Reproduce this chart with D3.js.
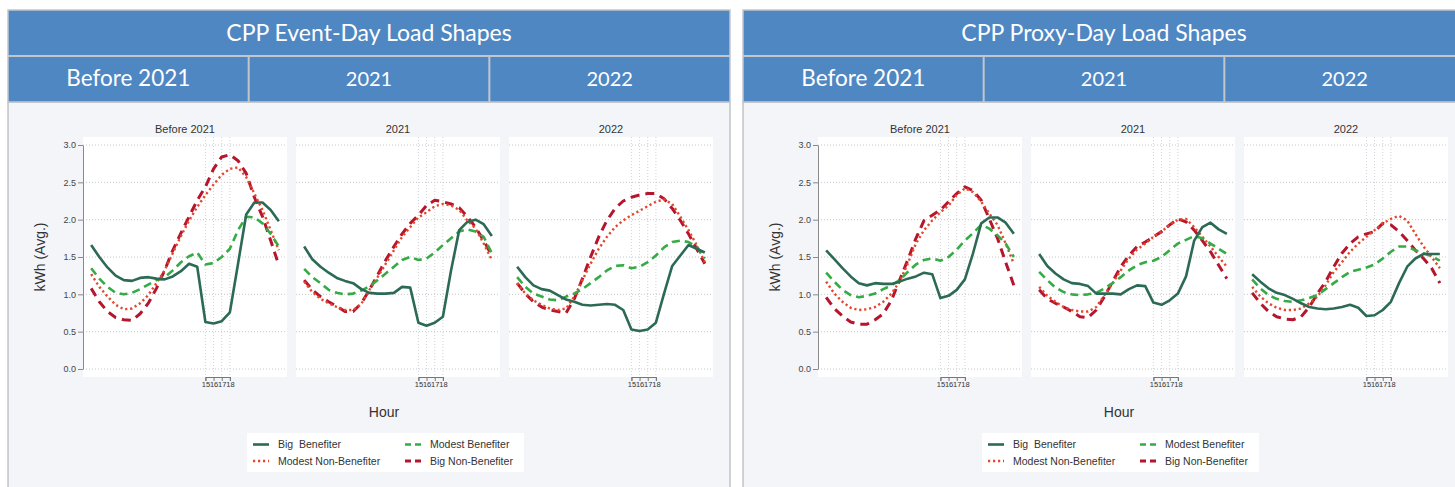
<!DOCTYPE html>
<html>
<head>
<meta charset="utf-8">
<script src="https://cdn.jsdelivr.net/npm/d3@7"></script>
<style>
body { margin: 0; background: #fff; overflow: hidden; }
svg { display: block; }
</style>
</head>
<body>
<div id="chart"></div>
<script>
// data, hours 1..24
const hours = [1,2,3,4,5,6,7,8,9,10,11,12,13,14,15,16,17,18,19,20,21,22,23,24];
const peakHours = [15, 16, 17, 18];
const yTicks = [0, 0.5, 1, 1.5, 2, 2.5, 3];
const cardTitles = ["CPP Event-Day Load Shapes", "CPP Proxy-Day Load Shapes"];
const periods = ["Before 2021", "2021", "2022"];
const seriesNames = ["Big  Benefiter", "Modest Benefiter", "Modest Non-Benefiter", "Big Non-Benefiter"];

// CPP event day
const evBefore_big = [1.66,1.50,1.36,1.25,1.19,1.18,1.22,1.23,1.21,1.20,1.24,1.31,1.41,1.37,0.63,0.61,0.64,0.76,1.41,2.07,2.23,2.23,2.13,1.98];
const evBefore_mod = [1.35,1.21,1.10,1.02,1.00,1.02,1.07,1.13,1.19,1.23,1.32,1.43,1.51,1.56,1.40,1.42,1.50,1.61,1.86,2.04,2.03,1.95,1.81,1.64];
const evBefore_modNon = [1.27,1.10,0.97,0.86,0.80,0.81,0.88,0.99,1.15,1.32,1.55,1.78,1.99,2.17,2.33,2.47,2.60,2.68,2.70,2.57,2.35,2.13,1.86,1.59];
const evBefore_bigNon = [1.08,0.90,0.77,0.69,0.66,0.65,0.74,0.88,1.08,1.32,1.59,1.82,2.04,2.26,2.44,2.68,2.84,2.87,2.79,2.62,2.30,2.04,1.72,1.39];

const ev2021_big = [1.64,1.47,1.37,1.29,1.22,1.18,1.15,1.07,1.02,1.01,1.01,1.02,1.10,1.09,0.62,0.58,0.62,0.70,1.32,1.86,1.97,2.00,1.94,1.78];
const ev2021_mod = [1.34,1.23,1.15,1.06,1.02,1.00,1.01,1.05,1.11,1.19,1.28,1.37,1.46,1.50,1.46,1.48,1.56,1.66,1.75,1.84,1.87,1.84,1.77,1.55];
const ev2021_modNon = [1.17,1.03,0.94,0.88,0.83,0.79,0.79,0.87,1.06,1.23,1.41,1.59,1.77,1.90,2.03,2.10,2.18,2.21,2.19,2.13,1.99,1.88,1.68,1.46];
const ev2021_bigNon = [1.19,1.06,0.97,0.90,0.84,0.77,0.77,0.88,1.06,1.26,1.46,1.64,1.81,1.95,2.06,2.19,2.26,2.24,2.21,2.16,2.04,1.90,1.72,1.52];

const ev2022_big = [1.37,1.23,1.12,1.07,1.05,0.99,0.93,0.90,0.86,0.85,0.86,0.87,0.86,0.79,0.53,0.51,0.53,0.62,1.01,1.38,1.52,1.66,1.61,1.56];
const ev2022_mod = [1.23,1.10,1.01,0.97,0.93,0.92,0.97,1.01,1.07,1.15,1.23,1.32,1.38,1.39,1.35,1.37,1.43,1.52,1.63,1.70,1.72,1.70,1.64,1.48];
const ev2022_modNon = [1.15,1.01,0.92,0.86,0.81,0.79,0.81,0.97,1.19,1.41,1.61,1.77,1.90,1.99,2.06,2.12,2.18,2.24,2.27,2.21,2.04,1.86,1.66,1.43];
const ev2022_bigNon = [1.15,1.01,0.90,0.83,0.79,0.77,0.75,0.94,1.21,1.50,1.77,1.99,2.15,2.25,2.30,2.33,2.35,2.35,2.28,2.15,1.99,1.81,1.61,1.41];

// CPP proxy day
const pxBefore_big = [1.59,1.47,1.35,1.24,1.15,1.12,1.15,1.14,1.14,1.17,1.21,1.24,1.29,1.27,0.95,0.98,1.06,1.20,1.55,1.95,2.03,2.03,1.96,1.81];
const pxBefore_mod = [1.29,1.17,1.06,0.99,0.96,0.98,1.01,1.07,1.12,1.19,1.30,1.40,1.46,1.48,1.45,1.50,1.60,1.72,1.82,1.93,1.88,1.79,1.68,1.50];
const pxBefore_modNon = [1.17,1.01,0.90,0.82,0.79,0.80,0.83,0.90,1.01,1.17,1.41,1.68,1.86,1.99,2.10,2.19,2.33,2.42,2.37,2.24,2.08,1.93,1.68,1.41];
const pxBefore_bigNon = [0.96,0.81,0.71,0.63,0.60,0.60,0.66,0.74,0.92,1.19,1.46,1.75,1.99,2.06,2.13,2.24,2.35,2.44,2.39,2.26,2.01,1.75,1.43,1.12];

const px2021_big = [1.54,1.38,1.28,1.20,1.15,1.14,1.11,1.01,1.01,1.01,1.00,1.07,1.12,1.11,0.89,0.86,0.92,1.01,1.24,1.72,1.90,1.96,1.87,1.81];
const px2021_mod = [1.30,1.19,1.09,1.03,1.00,0.99,1.00,1.02,1.08,1.15,1.23,1.32,1.39,1.43,1.45,1.50,1.59,1.68,1.73,1.78,1.75,1.68,1.61,1.54];
const px2021_modNon = [1.10,0.98,0.90,0.83,0.79,0.77,0.77,0.83,0.99,1.15,1.32,1.48,1.60,1.68,1.77,1.84,1.93,2.00,2.01,1.90,1.77,1.64,1.50,1.37];
const px2021_bigNon = [1.06,0.94,0.88,0.83,0.77,0.70,0.69,0.79,0.97,1.17,1.37,1.52,1.64,1.70,1.77,1.84,1.93,2.01,1.97,1.86,1.72,1.57,1.39,1.21];

const px2022_big = [1.27,1.17,1.08,1.02,0.99,0.94,0.88,0.83,0.81,0.80,0.81,0.83,0.86,0.82,0.71,0.72,0.79,0.90,1.15,1.37,1.48,1.54,1.54,1.54];
const px2022_mod = [1.20,1.08,0.99,0.94,0.91,0.90,0.92,0.95,0.99,1.07,1.15,1.23,1.30,1.33,1.36,1.40,1.48,1.57,1.64,1.64,1.59,1.55,1.51,1.45];
const px2022_modNon = [1.10,0.97,0.88,0.82,0.79,0.79,0.81,0.88,0.97,1.12,1.30,1.43,1.57,1.68,1.77,1.86,1.95,2.01,2.05,1.99,1.81,1.64,1.50,1.35];
const px2022_bigNon = [1.02,0.88,0.77,0.70,0.67,0.66,0.70,0.83,1.01,1.17,1.37,1.55,1.68,1.77,1.81,1.84,1.95,1.93,1.84,1.72,1.59,1.48,1.35,1.15];

const cardData = [
    [
        [evBefore_big, evBefore_mod, evBefore_modNon, evBefore_bigNon],
        [ev2021_big, ev2021_mod, ev2021_modNon, ev2021_bigNon],
        [ev2022_big, ev2022_mod, ev2022_modNon, ev2022_bigNon]
    ],
    [
        [pxBefore_big, pxBefore_mod, pxBefore_modNon, pxBefore_bigNon],
        [px2021_big, px2021_mod, px2021_modNon, px2021_bigNon],
        [px2022_big, px2022_mod, px2022_modNon, px2022_bigNon]
    ]
];

const seriesStyle = [
    { color: "#2c6a55", width: 2.6, dash: null },
    { color: "#35aa45", width: 2.6, dash: "8,5" },
    { color: "#e5462c", width: 2.4, dash: "2.2,2.8" },
    { color: "#b5162e", width: 3, dash: "9,6" }
];
const drawOrder = [3, 2, 1, 0];

const width = 1455, height = 487;
const fontSans = "'Liberation Sans', Arial, sans-serif";
const blue = "#4f87c3";
const frame = "#c2c6cb";

const svg = d3.select("#chart").append("svg")
    .attr("width", width)
    .attr("height", height);

svg.append("rect").attr("width", width).attr("height", height).attr("fill", "#fff");

function drawCard(ci) {
    const x0 = 8 + ci * 735;
    const cw = 722;
    const g = svg.append("g").attr("transform", `translate(${x0},0)`);

    // body
    g.append("rect")
        .attr("x", 0).attr("y", 102)
        .attr("width", cw).attr("height", 400)
        .attr("fill", "#f3f5f9")
        .attr("stroke", "#a4a9af");

    // header
    g.append("rect")
        .attr("x", 0).attr("y", 10)
        .attr("width", cw).attr("height", 92)
        .attr("fill", blue)
        .attr("stroke", frame)
        .attr("stroke-width", 1.5);
    g.append("line")
        .attr("x1", 0).attr("x2", cw)
        .attr("y1", 56).attr("y2", 56)
        .attr("stroke", frame).attr("stroke-width", 2);
    [1, 2].forEach(k => {
        g.append("line")
            .attr("x1", k * cw / 3).attr("x2", k * cw / 3)
            .attr("y1", 56).attr("y2", 102)
            .attr("stroke", frame).attr("stroke-width", 2);
    });
    g.append("text")
        .attr("x", cw / 2).attr("y", 41)
        .attr("text-anchor", "middle")
        .attr("fill", "#fff")
        .style("font-family", "Lato, sans-serif")
        .style("font-size", "23px")
        .text(cardTitles[ci]);
    periods.forEach((p, k) => {
        g.append("text")
            .attr("x", (k + 0.5) * cw / 3).attr("y", 86)
            .attr("text-anchor", "middle")
            .attr("fill", "#fff")
            .style("font-family", "Lato, sans-serif")
            .style("font-size", k === 0 ? "22.5px" : "20px")
            .text(p);
    });

    const y = d3.scaleLinear().domain([0, 3]).range([369, 145]);

    periods.forEach((p, pi) => {
        const px = 75 + pi * 213;
        const pw = 204;
        const x = d3.scaleLinear().domain([0, 25]).range([px, px + pw]);
        const pg = g.append("g");

        pg.append("rect")
            .attr("x", px).attr("y", 137)
            .attr("width", pw).attr("height", 240)
            .attr("fill", "#fff");

        pg.selectAll(".hgrid")
            .data(yTicks)
            .enter().append("line")
            .attr("x1", px).attr("x2", px + pw)
            .attr("y1", d => y(d)).attr("y2", d => y(d))
            .attr("stroke", "#c4c8cd")
            .attr("stroke-width", 1)
            .attr("stroke-dasharray", "1,2");

        pg.selectAll(".vgrid")
            .data(peakHours)
            .enter().append("line")
            .attr("x1", d => x(d)).attr("x2", d => x(d))
            .attr("y1", 137).attr("y2", 377)
            .attr("stroke", "#d0d3d8")
            .attr("stroke-width", 1)
            .attr("stroke-dasharray", "1,2");

        pg.append("text")
            .attr("x", px + pw / 2).attr("y", 133)
            .attr("text-anchor", "middle")
            .attr("fill", "#333")
            .style("font-family", fontSans)
            .style("font-size", "11px")
            .text(p);

        const line = d3.line()
            .x((d, i) => x(hours[i]))
            .y(d => y(d));

        drawOrder.forEach(si => {
            const st = seriesStyle[si];
            pg.append("path")
                .datum(cardData[ci][pi][si])
                .attr("d", line)
                .attr("fill", "none")
                .attr("stroke", st.color)
                .attr("stroke-width", st.width)
                .attr("stroke-dasharray", st.dash)
                .attr("stroke-linejoin", "round");
        });

        // peak-hour ticks
        const xPeak = d3.scaleLinear().domain([15, 18]).range([x(15), x(18)]);
        const xAxis = pg.append("g")
            .attr("transform", "translate(0,377)")
            .call(d3.axisBottom(xPeak).tickValues(peakHours).tickSize(4).tickPadding(1).tickFormat(d3.format("d")));
        xAxis.selectAll("line, path").attr("stroke", "#777");
        xAxis.selectAll("text")
            .attr("fill", "#333")
            .style("font-family", fontSans)
            .style("font-size", "7.5px");

        if (pi === 0) {
            const yAxis = pg.append("g")
                .attr("transform", `translate(${px},0)`)
                .call(d3.axisLeft(y).tickValues(yTicks).tickSize(5).tickSizeOuter(0).tickPadding(2).tickFormat(d3.format(".1f")));
            yAxis.selectAll("line, path").attr("stroke", "#8a8a8a");
            yAxis.selectAll("text")
                .attr("fill", "#444")
                .style("font-family", fontSans)
                .style("font-size", "9px");
        }
    });

    g.append("text")
        .attr("transform", "translate(37,257) rotate(-90)")
        .attr("text-anchor", "middle")
        .attr("fill", "#333")
        .style("font-family", fontSans)
        .style("font-size", "14px")
        .text("kWh (Avg.)");

    g.append("text")
        .attr("x", 376).attr("y", 417)
        .attr("text-anchor", "middle")
        .attr("fill", "#333")
        .style("font-family", fontSans)
        .style("font-size", "14px")
        .text("Hour");

    // Legend
    const lg = g.append("g").attr("transform", "translate(239,433)");
    lg.append("rect")
        .attr("width", 277).attr("height", 39)
        .attr("fill", "#fff");
    seriesNames.forEach((name, si) => {
        const col = si === 0 || si === 2 ? 0 : 1;
        const row = si < 2 ? 0 : 1;
        const lx = 6 + col * 152;
        const ly = 11.5 + row * 16.5;
        const st = seriesStyle[si];
        lg.append("line")
            .attr("x1", lx).attr("x2", lx + 16)
            .attr("y1", ly).attr("y2", ly)
            .attr("stroke", st.color)
            .attr("stroke-width", st.width)
            .attr("stroke-dasharray", si === 1 || si === 3 ? "6,4" : st.dash);
        lg.append("text")
            .attr("x", lx + 25).attr("y", ly + 3.8)
            .attr("fill", "#333")
            .style("font-family", fontSans)
            .style("font-size", "10.5px")
            .style("white-space", "pre")
            .text(name);
    });
}

cardTitles.forEach((t, ci) => drawCard(ci));
</script>
</body>
</html>
